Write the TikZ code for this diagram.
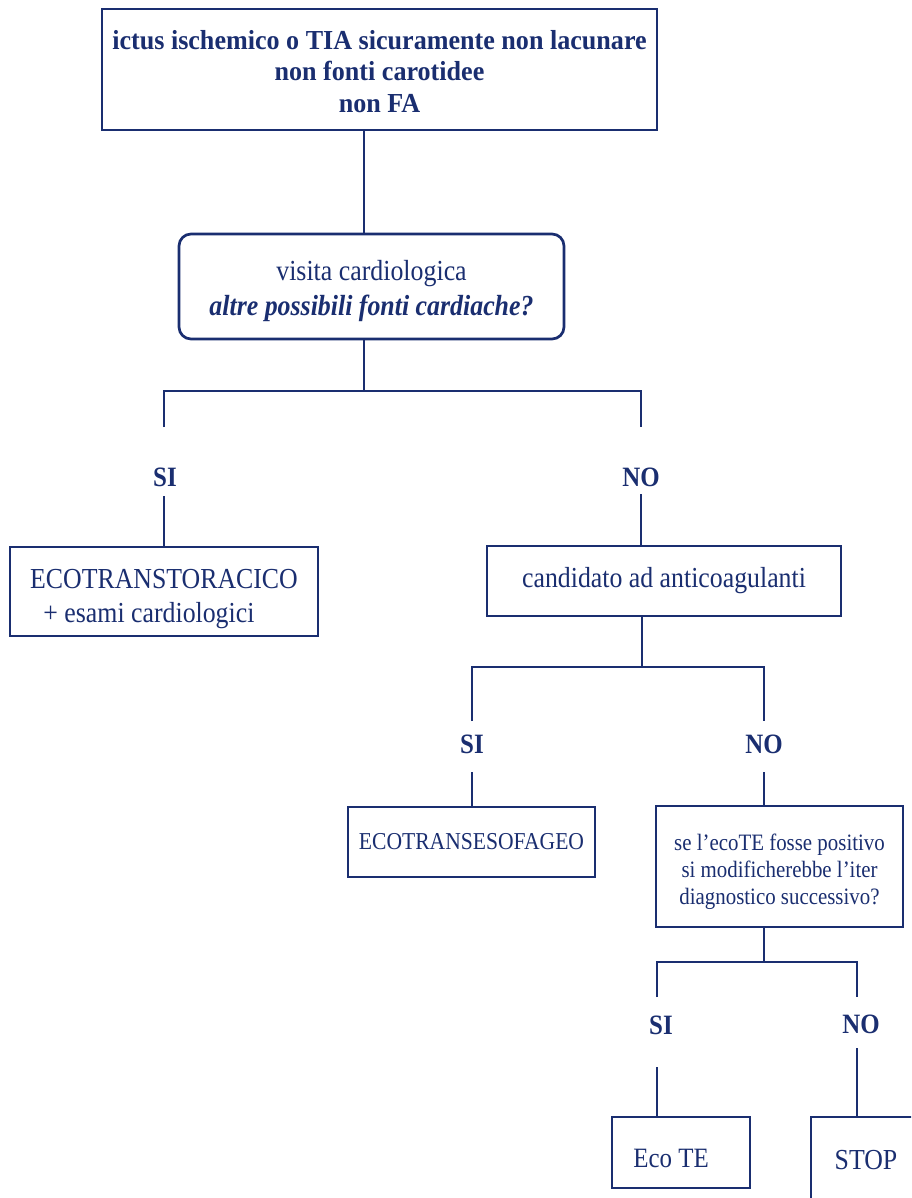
\documentclass[tikz,border=0pt]{standalone}
\usepackage{fontspec}
\setmainfont{Liberation Serif}[FakeStretch=0.89]
\newfontfamily\topfont{Liberation Serif}[FakeStretch=0.95]
\definecolor{navy}{RGB}{26,46,112}
\tikzset{
  wh/.style 2 args={minimum width=#1*0.75pt, minimum height=#2*0.75pt},
  box/.style={draw=navy, line width=2pt, rectangle, inner sep=0pt, text=navy, align=center},
  conn/.style={draw=navy, line width=1.5pt},
  lbl/.style={text=navy, inner sep=0pt, font=\fontsize{21pt}{24pt}\selectfont\bfseries},
}
\begin{document}
\begin{tikzpicture}[x=0.75pt, y=-0.75pt]
\useasboundingbox[fill=white] (0,0) rectangle (911,1198);
\clip (0,0) rectangle (911,1198);

% boxes
\node[box, wh={555}{121}, font=\topfont\fontsize{20.6pt}{23.6pt}\selectfont\bfseries] (top) at (379.5,69.5)
  {\rule{0pt}{17pt}ictus ischemico o TIA sicuramente non lacunare\\ non fonti carotidee\\ non FA};
\node[box, wh={385}{105}, rounded corners=9pt, font=\fontsize{21.8pt}{26.25pt}\selectfont] (visita) at (371.5,286.5)
  {\rule{0pt}{22pt}visita cardiologica\\ \textbf{\textit{altre possibili fonti cardiache?}}};
\node[box, wh={308}{89}, align=left, font=\fontsize{21.75pt}{25.5pt}\selectfont] (ett) at (164,591.5)
  {\rule{0pt}{25pt}ECOTRANSTORACICO\\ \hspace*{10pt}+ esami cardiologici};
\node[box, wh={354}{70}, font=\fontsize{21.75pt}{25.5pt}\selectfont] (cand) at (664,581)
  {candidato ad anticoagulanti};
\node[box, wh={247}{70}, font=\fontsize{18.2pt}{21pt}\selectfont] (ese) at (471.5,842)
  {ECOTRANSESOFAGEO};
\node[box, wh={247}{121}, font=\fontsize{17.6pt}{20.25pt}\selectfont] (q) at (779.5,866.5)
  {\rule{0pt}{19.7pt}se l’ecoTE fosse positivo\\ si modificherebbe l’iter\\ diagnostico successivo?};
\node[box, wh={138}{71}, text height=22.5pt, text depth=0pt, font=\fontsize{21pt}{24pt}\selectfont] (ecote) at (681,1152.5)
  {\hbox{Eco TE\kern15pt}};
\node[box, wh={110}{86}, font=\fontsize{21.75pt}{24pt}\selectfont] (stop) at (866,1160)
  {STOP};

% labels
\node[lbl] (si1) at (165,477) {SI};
\node[lbl] (no1) at (641,477) {NO};
\node[lbl] (si2) at (472,744) {SI};
\node[lbl] (no2) at (764,744) {NO};
\node[lbl] (si3) at (661,1025) {SI};
\node[lbl] (no3) at (861,1024) {NO};

% coordinates
\coordinate (c1) at (364,0);
\coordinate (j1) at (364,391);
\coordinate (j1L) at (164,391);
\coordinate (j1R) at (641,391);
\coordinate (e1L) at (164,427);
\coordinate (e1R) at (641,427);
\coordinate (s1L) at (164,496);
\coordinate (s1R) at (641,494);

\coordinate (j2) at (642,667);
\coordinate (j2L) at (472,667);
\coordinate (j2R) at (764,667);
\coordinate (e2L) at (472,721);
\coordinate (e2R) at (764,721);
\coordinate (s2L) at (472,772);
\coordinate (s2R) at (764,772);

\coordinate (j3) at (764,962);
\coordinate (j3L) at (657,962);
\coordinate (j3R) at (857,962);
\coordinate (e3L) at (657,997);
\coordinate (e3R) at (857,997);
\coordinate (s3L) at (657,1067);
\coordinate (s3R) at (857,1048);

% connectors
\draw[conn] (top.south -| c1) -- (visita.north -| c1);
\draw[conn] (visita.south -| j1) -- (j1);
\draw[conn] (e1L) -- (j1L) -- (j1R) -- (e1R);
\draw[conn] (s1L) -- (ett.north -| s1L);
\draw[conn] (s1R) -- (cand.north -| s1R);

\draw[conn] (cand.south -| j2) -- (j2);
\draw[conn] (e2L) -- (j2L) -- (j2R) -- (e2R);
\draw[conn] (s2L) -- (ese.north -| s2L);
\draw[conn] (s2R) -- (q.north -| s2R);

\draw[conn] (q.south -| j3) -- (j3);
\draw[conn] (e3L) -- (j3L) -- (j3R) -- (e3R);
\draw[conn] (s3L) -- (ecote.north -| s3L);
\draw[conn] (s3R) -- (stop.north -| s3R);
\end{tikzpicture}
\end{document}
